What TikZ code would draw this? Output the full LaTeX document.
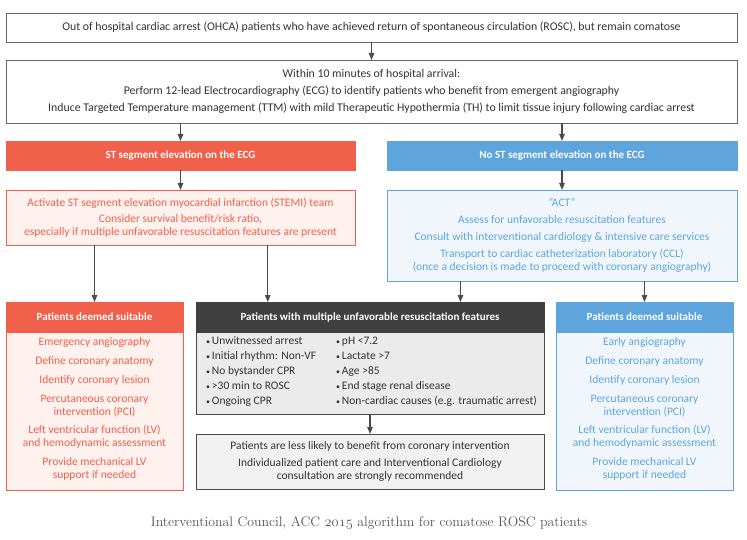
\documentclass[tikz,border=0pt]{standalone}
\usepackage{fontspec}
\setmainfont{Carlito}
\newfontfamily\capfont{Latin Modern Roman}
\usetikzlibrary{arrows.meta,calc}
\definecolor{redh}{HTML}{F0604B}
\definecolor{redp}{HTML}{FEF1EE}
\definecolor{blueh}{HTML}{5DA5DC}
\definecolor{bluep}{HTML}{F1F6FC}
\definecolor{grayh}{HTML}{404040}
\definecolor{grayp}{HTML}{EBEBEB}
\definecolor{grayl}{HTML}{F1F1F1}
\definecolor{linec}{HTML}{4A4A4A}
\definecolor{txt}{HTML}{333333}
\definecolor{capc}{HTML}{555555}
\newcommand{\osnum}[1]{{\fontencoding{OML}\fontfamily{cmm}\fontseries{m}\fontshape{it}\selectfont #1}}
\newcommand{\bul}{{\fontsize{8}{8}\selectfont•}\hspace{2pt}}
\begin{document}
\begin{tikzpicture}[x=1pt,y=-1pt,
  every node/.style={inner sep=0pt, outer sep=0pt, font=\fontsize{11.5}{12.8}\selectfont},
  basebox/.style={rectangle, anchor=north west, line width=0.9pt, align=center},
  whitebox/.style={basebox, draw=gray!80!black, fill=white, text=txt},
  headfont/.style={font=\fontsize{11}{12.5}\selectfont\bfseries},
  redhead/.style={basebox, draw=redh, fill=redh, text=white, headfont},
  bluehead/.style={basebox, draw=blueh, fill=blueh, text=white, headfont},
  grayhead/.style={basebox, draw=grayh, fill=grayh, text=white, headfont},
  redbox/.style={basebox, draw=redh, fill=redp, text=redh},
  bluebox/.style={basebox, draw=blueh, fill=bluep, text=blueh},
  graybox/.style={basebox, draw=linec, fill=grayp, text=txt},
  lgraybox/.style={basebox, draw=linec, fill=grayl, text=txt},
  bodytext/.style={align=center},
  arr/.style={draw=linec, line width=1.1pt, -{Triangle[length=7pt,width=5.5pt]}}
]
\path[use as bounding box, fill=white] (0,0) rectangle (747,540);

% top
\node[whitebox, minimum width=731pt, minimum height=29pt, font=\fontsize{11.8}{13}\selectfont] (top) at (6,13)
  {Out of hospital cardiac arrest (OHCA) patients who have achieved return of spontaneous circulation (ROSC), but remain comatose};
\node[whitebox, minimum width=731pt, minimum height=63pt, font=\fontsize{11.8}{17}\selectfont] (second) at (6,60)
  {Within 10 minutes of hospital arrival:\\
   Perform 12-lead Electrocardiography (ECG) to identify patients who benefit from emergent angiography\\
   Induce Targeted Temperature management (TTM) with mild Therapeutic Hypothermia (TH) to limit tissue injury following cardiac arrest};

% headers
\node[redhead, minimum width=349pt, minimum height=29pt] (sthead) at (6,141) {ST segment elevation on the ECG};
\node[bluehead, minimum width=350pt, minimum height=29pt] (nosthead) at (387,141) {No ST segment elevation on the ECG};

% pale boxes
\node[redbox, minimum width=349pt, minimum height=55pt] (stemi) at (6,190)
  {Activate ST segment elevation myocardial infarction (STEMI) team\\[3.5pt]
   Consider survival benefit/risk ratio,\\
   especially if multiple unfavorable resuscitation features are present};
\node[bluebox, minimum width=350pt, minimum height=91pt] (act) at (387,190)
  {"ACT"\\[4pt]
   Assess for unfavorable resuscitation features\\[4pt]
   Consult with interventional cardiology \& intensive care services\\[4pt]
   Transport to cardiac catheterization laboratory (CCL)\\
   (once a decision is made to proceed with coronary angiography)};

% left suitable
\node[redbox, minimum width=177pt, minimum height=188pt] (leftbox) at (6,302) {};
\node[redhead, minimum width=177pt, minimum height=30pt] (lefthead) at (6,302) {Patients deemed suitable};
\node[bodytext, text=redh, anchor=north] (lefttxt) at ($(lefthead.south)+(0,6)$)
  {Emergency angiography\\[6pt]
   Define coronary anatomy\\[6pt]
   Identify coronary lesion\\[6pt]
   Percutaneous coronary\\ intervention (PCI)\\[6pt]
   Left ventricular function (LV)\\ and hemodynamic assessment\\[6pt]
   Provide mechanical LV\\ support if needed};

% middle unfavorable
\node[graybox, minimum width=348pt, minimum height=112pt] (midbox) at (196,302) {};
\node[grayhead, minimum width=348pt, minimum height=30pt] (midhead) at (196,302) {Patients with multiple unfavorable resuscitation features};
\node[align=left, anchor=north west, text=txt, font=\fontsize{11.5}{15}\selectfont] (colA) at (206,337)
  {\bul Unwitnessed arrest\\ \bul Initial rhythm: Non-VF\\ \bul No bystander CPR\\ \bul >30 min to ROSC\\ \bul Ongoing CPR};
\node[align=left, anchor=north west, text=txt, font=\fontsize{11.5}{15}\selectfont] (colB) at (336,337)
  {\bul pH <7.2\\ \bul Lactate >7\\ \bul Age >85\\ \bul End stage renal disease\\ \bul Non-cardiac causes (e.g. traumatic arrest)};

\node[lgraybox, minimum width=348pt, minimum height=55pt] (lowbox) at (196,434)
  {Patients are less likely to benefit from coronary intervention\\[3.5pt]
   Individualized patient care and Interventional Cardiology\\
   consultation are strongly recommended};

% right suitable
\node[bluebox, minimum width=177pt, minimum height=188pt] (rightbox) at (556,302) {};
\node[bluehead, minimum width=177pt, minimum height=30pt] (righthead) at (556,302) {Patients deemed suitable};
\node[bodytext, text=blueh, anchor=north] (righttxt) at ($(righthead.south)+(0,6)$)
  {Early angiography\\[6pt]
   Define coronary anatomy\\[6pt]
   Identify coronary lesion\\[6pt]
   Percutaneous coronary\\ intervention (PCI)\\[6pt]
   Left ventricular function (LV)\\ and hemodynamic assessment\\[6pt]
   Provide mechanical LV\\ support if needed};

% caption
\node[text=capc, font=\capfont\fontsize{13.8}{15}\selectfont] (caption) at (369,523)
  {Interventional Council, ACC \osnum{2015} algorithm for comatose ROSC patients};

% arrows
\draw[arr] (top.south) -- (second.north);
\draw[arr] (second.south -| sthead.north) -- (sthead.north);
\draw[arr] (second.south -| nosthead.north) -- (nosthead.north);
\draw[arr] (sthead.south) -- (stemi.north);
\draw[arr] (nosthead.south) -- (act.north);
\draw[arr] (stemi.south -| leftbox.north) -- (leftbox.north);
\coordinate (stemiB) at ($(stemi.south west)!0.75!(stemi.south east)$);
\draw[arr] (stemiB) -- (stemiB |- midbox.north);
\coordinate (actA) at ($(act.south west)!0.21!(act.south east)$);
\draw[arr] (actA) -- (actA |- midbox.north);
\draw[arr] (act.south -| rightbox.north) -- (rightbox.north);
\draw[arr] (midbox.south) -- (lowbox.north);
\end{tikzpicture}
\end{document}
